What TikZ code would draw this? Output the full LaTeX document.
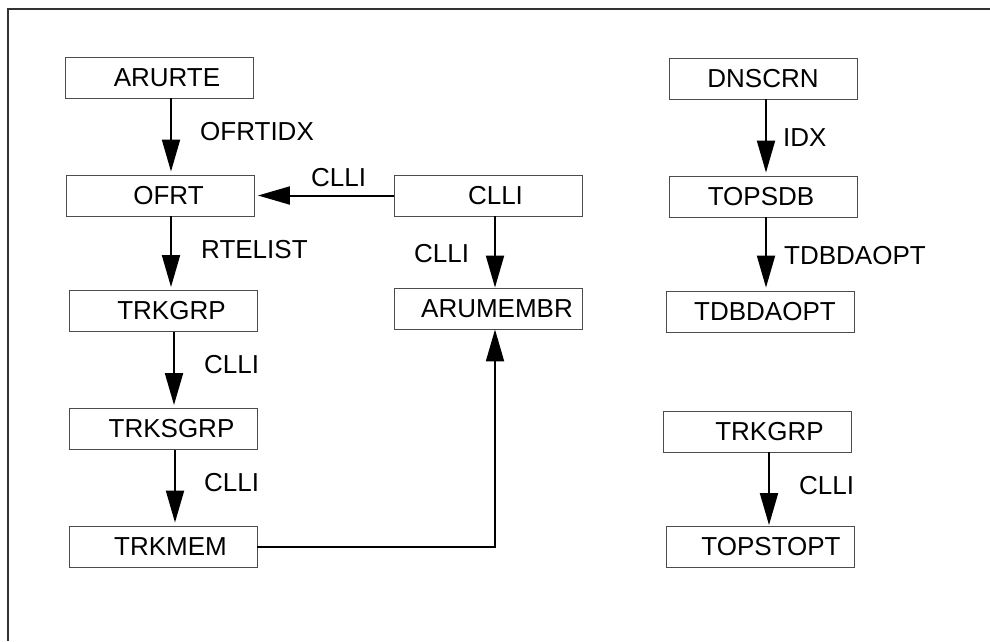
\documentclass[tikz,border=0pt]{standalone}
\usepackage{fontspec}
\setmainfont{Liberation Sans}
\usetikzlibrary{arrows.meta}
\tikzset{
  tbl/.style={draw=black!70, line width=0.9pt, minimum width=188pt, minimum height=41pt, inner sep=0pt, font=\fontsize{26}{30}\selectfont, execute at begin node={\hspace*{#1}}},
  tbl/.default=16pt,
  lbl/.style={anchor=west, inner sep=0pt, font=\fontsize{26}{30}\selectfont},
  key/.style={-{Triangle[length=32pt,width=18pt]}, line width=2pt, shorten >=3pt},
  frameline/.style={draw=black!80, line width=1.3pt}
}

\begin{document}
\begin{tikzpicture}[x=1pt, y=-1pt]
  \useasboundingbox (0,0) rectangle (990,641);
  \draw[frameline] (990,9) -- (8,9) -- (8,641);
  % left chain
  \node[tbl=15pt] (arurte) at (159.5,77.5) {ARURTE};
  \node[tbl] (ofrt) at (160.5,195.5) {OFRT};
  \node[tbl=17pt] (trkgrp) at (163,311) {TRKGRP};
  \node[tbl=17pt] (trksgrp) at (163,429) {TRKSGRP};
  \node[tbl=15pt] (trkmem) at (163,546.5) {TRKMEM};
  % middle
  \node[tbl=15pt] (clli) at (488,195.5) {CLLI};
  \node[tbl=17pt] (arumembr) at (488.5,308.5) {ARUMEMBR};
  % right
  \node[tbl=0pt] (dnscrn) at (763,78.5) {DNSCRN};
  \node[tbl=-4pt] (topsdb) at (763,196.5) {TOPSDB};
  \node[tbl=9pt] (tdbdaopt) at (760.5,311.5) {TDBDAOPT};
  \node[tbl=24pt] (trkgrpb) at (757.5,431.5) {TRKGRP};
  \node[tbl=22pt] (topstopt) at (760,547) {TOPSTOPT};
  % labels
  \node[lbl] (lofrtidx) at (200,132) {OFRTIDX};
  \node[lbl] (lrtelist) at (201,250) {RTELIST};
  \node[lbl] (lclliofrt) at (311,178) {CLLI};
  \node[lbl] (lclliaru) at (414,254) {CLLI};
  \node[lbl] (lcllitrk) at (204,365) {CLLI};
  \node[lbl] (lcllisgrp) at (204,483) {CLLI};
  \node[lbl] (lidx) at (783,138) {IDX};
  \node[lbl] (ltdbdaopt) at (784,256) {TDBDAOPT};
  \node[lbl] (lcllitops) at (799,486) {CLLI};
  % arrows
  \draw[key] ([xshift=11.5pt]arurte.south) -- ([xshift=11.5pt]arurte.south |- ofrt.north);
  \draw[key] ([xshift=10.5pt]ofrt.south) -- ([xshift=10.5pt]ofrt.south |- trkgrp.north);
  \draw[key] ([xshift=11pt]trkgrp.south) -- ([xshift=11pt]trkgrp.south |- trksgrp.north);
  \draw[key] ([xshift=12pt]trksgrp.south) -- ([xshift=12pt]trksgrp.south |- trkmem.north);
  \draw[key] (clli.west) -- (ofrt.east);
  \draw[key, shorten >=0pt] ([xshift=7pt]clli.south) -- ([xshift=7pt]clli.south |- arumembr.north);
  \draw[key, shorten >=0pt] (trkmem.east) -| ([xshift=6.5pt]arumembr.south);
  \draw[key] ([xshift=3pt]dnscrn.south) -- ([xshift=3pt]dnscrn.south |- topsdb.north);
  \draw[key] ([xshift=3pt]topsdb.south) -- ([xshift=3pt]topsdb.south |- tdbdaopt.north);
  \draw[key, shorten >=1pt] ([xshift=11.5pt]trkgrpb.south) -- ([xshift=11.5pt]trkgrpb.south |- topstopt.north);
\end{tikzpicture}
\end{document}
